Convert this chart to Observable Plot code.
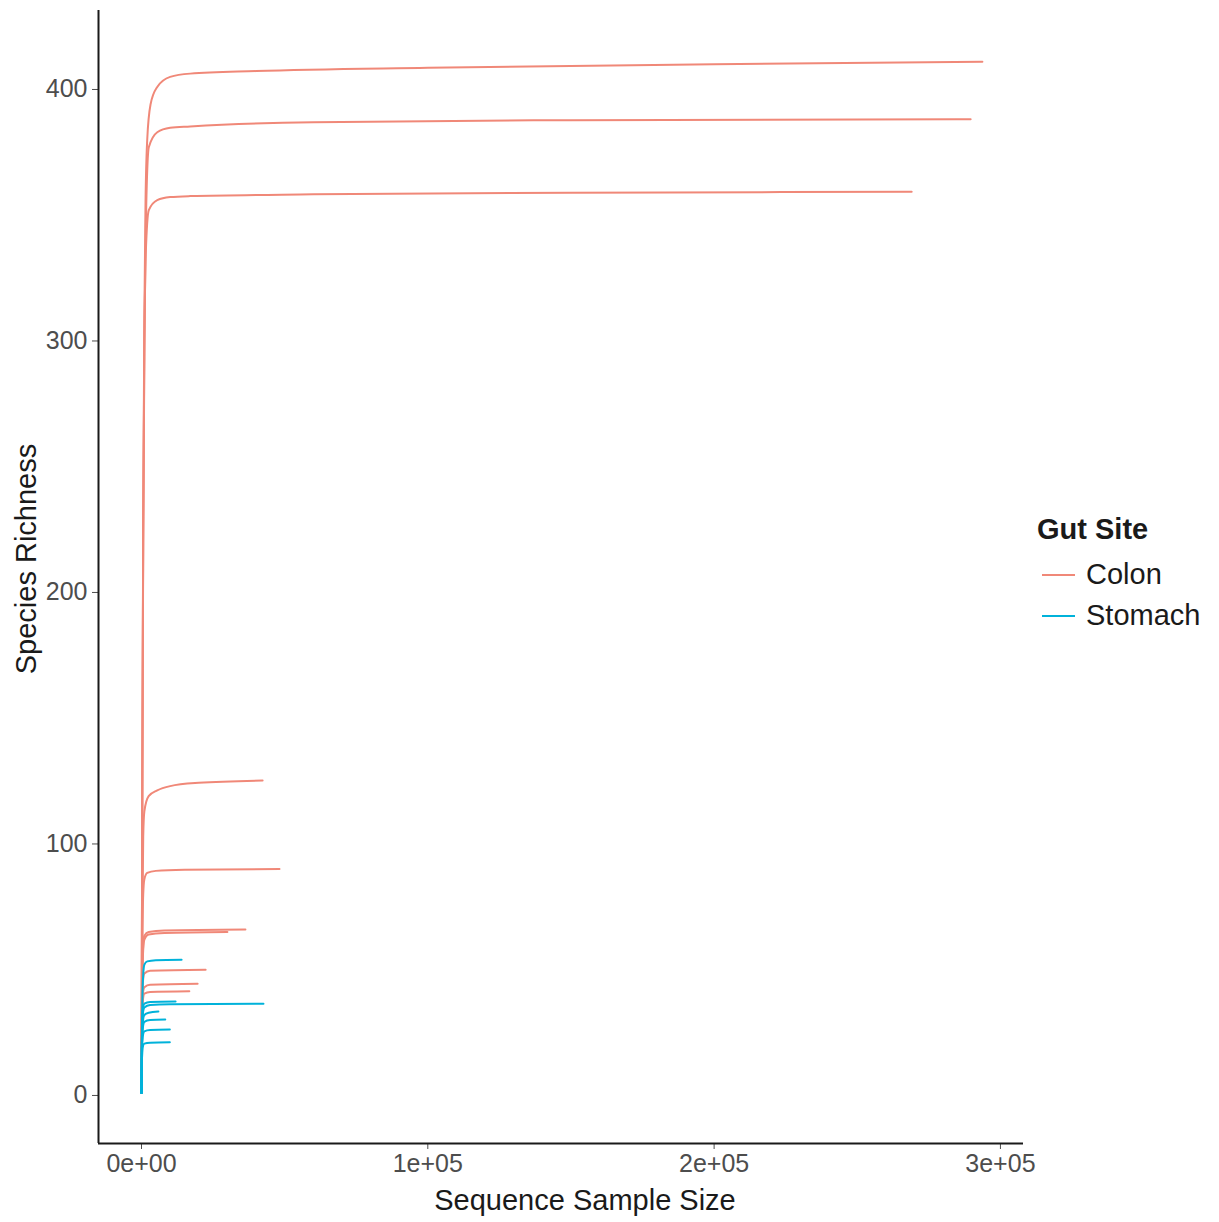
<!DOCTYPE html>
<html><head><meta charset="utf-8">
<script src="https://cdn.jsdelivr.net/npm/d3@7"></script>
<script src="https://cdn.jsdelivr.net/npm/@observablehq/plot@0.6"></script>
<style>
body{margin:0;background:#fff;font-family:"Liberation Sans",Arial,Helvetica,sans-serif;}
#wrap{position:relative;width:1219px;height:1222px;overflow:hidden;}
</style></head><body><div id="wrap"></div>
<script>
// ---- data ----
const sites = ["Colon", "Stomach"];
const siteColors = ["#F08878", "#00B2DA"];
const legendTitle = "Gut Site";
const xLabel = "Sequence Sample Size";
const yLabel = "Species Richness";
const xTicks = [0, 100000, 200000, 300000];
const xTickLabels = ["0e+00", "1e+05", "2e+05", "3e+05"];
const yTicks = [0, 100, 200, 300, 400];

// Colon rarefaction curves: sample sizes (reads) and species richness
const colonReads = [
  [1,100,300,600,1000,1400,2000,3150,5500,10000,17000,40000,100000,200000,293700],
  [1,100,300,600,1000,1500,2550,5500,10000,17000,60000,150000,289600],
  [1,100,300,600,1000,1500,2550,5500,10000,17000,60000,150000,269000],
  [1,100,300,600,1000,2500,5500,10000,20000,42300],
  [1,100,300,600,1000,2000,5000,15000,48200],
  [1,100,300,600,1000,2500,8000,36300],
  [1,100,300,600,1000,2500,8000,30000],
  [1,100,300,600,1000,3000,22400],
  [1,100,300,600,1000,3000,19600],
  [1,100,300,600,1000,3000,16700]
];
const colonRichness = [
  [1,45,130,230,310,355,380,394,401,405,406.3,407.3,408.6,410,411],
  [1,45,130,225,300,345,377,383,384.8,385.3,387,387.8,388.2],
  [1,45,128,220,295,335,352,356,357.2,357.6,358.3,358.9,359.3],
  [1,30,70,103,113,119,121.3,123,124.3,125.2],
  [1,28,60,80,86,88.5,89.3,89.7,90],
  [1,25,48,60,63.5,65,65.6,66],
  [1,25,47,58,62,64,64.6,65],
  [1,22,40,46.5,48.5,49.6,50],
  [1,20,36,41.5,43,44,44.4],
  [1,20,34,39,40.5,41.1,41.4]
];
// Stomach rarefaction curves
const stomachReads = [
  [1,100,300,600,1000,2000,5000,14000],
  [1,100,300,600,1000,3000,11900],
  [1,100,300,600,1000,3000,10000,42600],
  [1,100,300,600,1000,2500,5900],
  [1,100,300,600,1000,3000,8300],
  [1,100,300,600,1000,3000,9900],
  [1,100,300,600,1000,3000,9900]
];
const stomachRichness = [
  [1,20,38,48,52,53.3,53.8,54],
  [1,18,30,35,36.5,37.2,37.4],
  [1,18,29,33.5,35,36,36.3,36.5],
  [1,16,26,30.5,32,32.9,33.4],
  [1,15,24,28,29.3,30,30.2],
  [1,14,21.5,24.5,25.5,26,26.2],
  [1,12,17.5,20,20.6,21,21.2]
];

// ---- build long table ----
const rows = [];
function addSite(site, readsList, richList) {
  readsList.forEach((reads, i) => {
    reads.forEach((r, j) => rows.push({site, sample: site + "-" + i, reads: r, richness: richList[i][j]}));
  });
}
addSite("Colon", colonReads, colonRichness);
addSite("Stomach", stomachReads, stomachRichness);

const xDomain = [-15020, 308060];
const yDomain = [-19.1, 431.4];
const W = 1219, H = 1222;
const mL = 98, mR = 196, mT = 10, mB = 79;
const FONT = "'Liberation Sans', Arial, Helvetica, sans-serif";

const chart = Plot.plot({
  width: W, height: H,
  marginLeft: mL, marginRight: mR, marginTop: mT, marginBottom: mB,
  style: {fontFamily: FONT, background: "#fff"},
  x: {domain: xDomain},
  y: {domain: yDomain},
  color: {domain: sites, range: siteColors},
  marks: [
    Plot.line(rows, {x: "reads", y: "richness", z: "sample", stroke: "site", strokeWidth: 2, curve: "monotone-x"}),
    Plot.axisX({ticks: xTicks, tickFormat: d => xTickLabels[xTicks.indexOf(d)], tickSize: 6, tickPadding: 5, fontSize: 25, color: "#4d4d4d", label: null}),
    Plot.axisY({ticks: yTicks, tickSize: 6, tickPadding: 5, fontSize: 25, color: "#4d4d4d", label: null}),
    Plot.ruleX([xDomain[0]], {stroke: "#1a1a1a", strokeWidth: 2}),
    Plot.ruleY([yDomain[0]], {stroke: "#1a1a1a", strokeWidth: 2}),
    Plot.text([xLabel], {frameAnchor: "bottom", textAnchor: "middle", dx: 24, dy: 57, fontSize: 29, fill: "#1a1a1a", lineAnchor: "middle"}),
    Plot.text([yLabel], {frameAnchor: "left", textAnchor: "middle", rotate: -90, dx: -72, dy: -18, fontSize: 29, fill: "#1a1a1a", lineAnchor: "middle"})
  ]
});
chart.style.position = "absolute";
chart.style.left = "0px";
chart.style.top = "0px";
const wrap = document.getElementById("wrap");
wrap.appendChild(chart);

// ---- legend ----
const ns = "http://www.w3.org/2000/svg";
const lg = document.createElementNS(ns, "svg");
lg.setAttribute("width", 189);
lg.setAttribute("height", 160);
lg.style.position = "absolute";
lg.style.left = "1030px";
lg.style.top = "490px";
lg.style.fontFamily = FONT;
const t = document.createElementNS(ns, "text");
t.setAttribute("x", 7); t.setAttribute("y", 49);
t.setAttribute("font-size", 29); t.setAttribute("font-weight", "bold"); t.setAttribute("fill", "#1a1a1a");
t.textContent = legendTitle;
lg.appendChild(t);
sites.forEach((s, i) => {
  const cy = 85 + i * 41;
  const ln = document.createElementNS(ns, "line");
  ln.setAttribute("x1", 12); ln.setAttribute("x2", 45);
  ln.setAttribute("y1", cy); ln.setAttribute("y2", cy);
  ln.setAttribute("stroke", siteColors[i]); ln.setAttribute("stroke-width", 2);
  lg.appendChild(ln);
  const tx = document.createElementNS(ns, "text");
  tx.setAttribute("x", 56); tx.setAttribute("y", cy + 9);
  tx.setAttribute("font-size", 29); tx.setAttribute("fill", "#1a1a1a");
  tx.textContent = s;
  lg.appendChild(tx);
});
wrap.appendChild(lg);
</script></body></html>
